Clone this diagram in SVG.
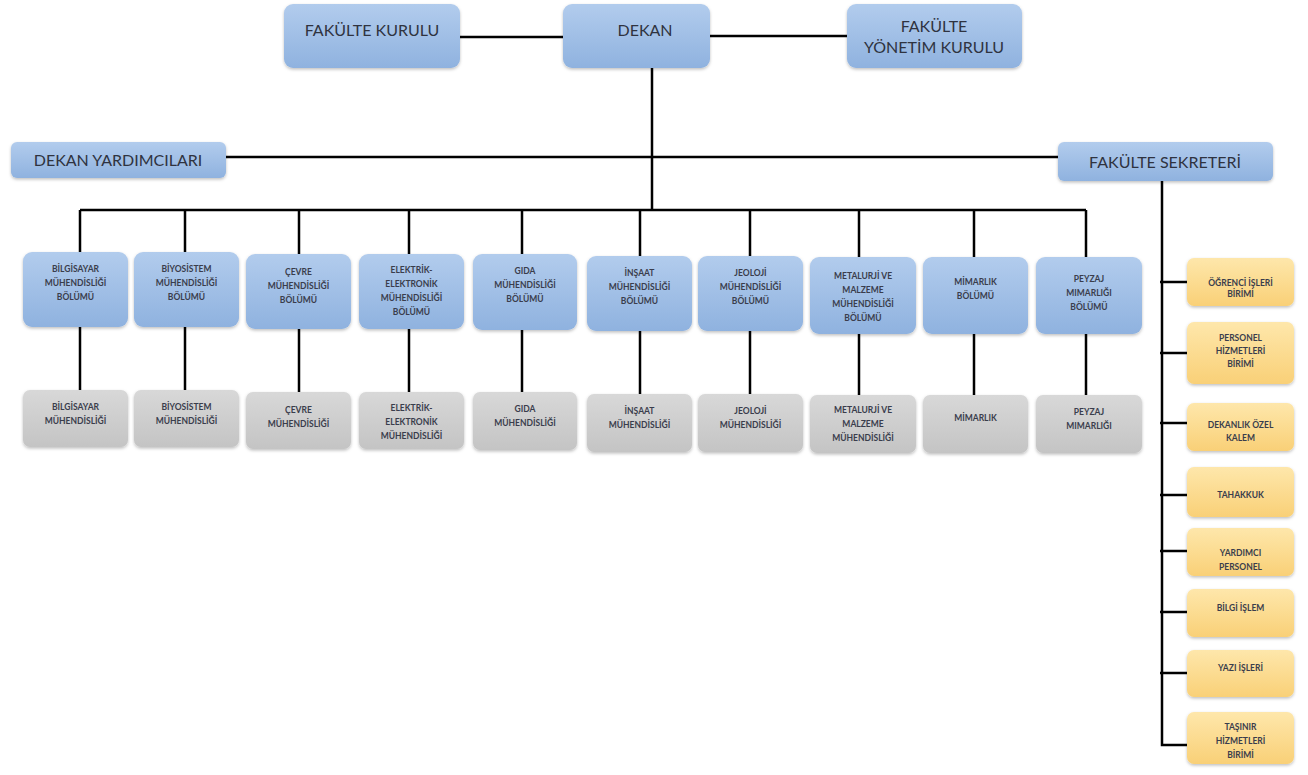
<svg xmlns="http://www.w3.org/2000/svg" width="1308" height="775" viewBox="0 0 1308 775">
<defs>
<linearGradient id="gb" x1="0" y1="0" x2="0" y2="1"><stop offset="0" stop-color="#b2cced"/><stop offset="1" stop-color="#8fb2df"/></linearGradient>
<linearGradient id="gg" x1="0" y1="0" x2="0" y2="1"><stop offset="0" stop-color="#d8d8d8"/><stop offset="1" stop-color="#c4c4c4"/></linearGradient>
<linearGradient id="go" x1="0" y1="0" x2="0" y2="1"><stop offset="0" stop-color="#fee7ab"/><stop offset="1" stop-color="#f9d077"/></linearGradient>
<filter id="sh" x="-10%" y="-10%" width="130%" height="140%"><feDropShadow dx="0" dy="1.5" stdDeviation="1.5" flood-color="#000" flood-opacity="0.25"/></filter>
<style>
.b{fill:url(#gb);filter:url(#sh)}
.g{fill:url(#gg);filter:url(#sh)}
.o{fill:url(#go);filter:url(#sh)}
.t{font-family:Lato,"Liberation Sans",sans-serif;font-size:16px;fill:#2f3340;text-anchor:middle}
.s{font-family:Lato,"Liberation Sans",sans-serif;font-size:8.5px;font-weight:bold;fill:#3a3d4c;text-anchor:middle}
.c{stroke:#000;stroke-width:2.5;fill:none}
</style>
</defs>
<g id="connectors" class="c">
<path d="M460 37H563M710 36H847M652 68V210M226 157H1058M80 210H1086"/>
<path d="M80 210V252M185 210V252M299 210V254M409 210V254M522 210V254M640 210V256M750 210V256M859 210V257M974 210V257M1086 210V257"/>
<path d="M80 327V390M185 327V390M299 329V392M409 329V392M522 330V392M640 331V394M750 331V394M859 334V395M974 334V395M1086 334V395"/>
<path d="M1162 181V745H1187M1160 282H1187M1160 353H1187M1160 423H1187M1160 495H1187M1160 551H1187M1160 612H1187M1160 673H1187"/>
</g>
<g id="fakulte-kurulu"><rect class="b" x="284" y="4" width="176" height="64" rx="9"/><text class="t" x="372" y="36">FAKÜLTE KURULU</text></g>
<g id="dekan"><rect class="b" x="563" y="4" width="147" height="64" rx="9"/><text class="t" x="645" y="36">DEKAN</text></g>
<g id="fakulte-yonetim-kurulu"><rect class="b" x="847" y="4" width="175" height="64" rx="9"/><text class="t" x="934" y="32">FAKÜLTE</text><text class="t" x="934" y="53">YÖNETİM KURULU</text></g>
<g id="dekan-yardimcilari"><rect class="b" x="11" y="142" width="215" height="36" rx="6"/><text class="t" x="118" y="166">DEKAN YARDIMCILARI</text></g>
<g id="fakulte-sekreteri"><rect class="b" x="1058" y="142" width="215" height="39" rx="6"/><text class="t" x="1165" y="168">FAKÜLTE SEKRETERİ</text></g>

<g id="bolum-bilgisayar"><rect class="b" x="23" y="252" width="105" height="75" rx="9"/><text class="s" x="75.5" y="272">BİLGİSAYAR</text><text class="s" x="75.5" y="286">MÜHENDİSLİĞİ</text><text class="s" x="75.5" y="300">BÖLÜMÜ</text></g>
<g id="bolum-biyosistem"><rect class="b" x="134" y="252" width="105" height="75" rx="9"/><text class="s" x="186.5" y="272">BİYOSİSTEM</text><text class="s" x="186.5" y="286">MÜHENDİSLİĞİ</text><text class="s" x="186.5" y="300">BÖLÜMÜ</text></g>
<g id="bolum-cevre"><rect class="b" x="246" y="254" width="105" height="75" rx="9"/><text class="s" x="298.5" y="275">ÇEVRE</text><text class="s" x="298.5" y="289">MÜHENDİSLİĞİ</text><text class="s" x="298.5" y="303">BÖLÜMÜ</text></g>
<g id="bolum-elektrik"><rect class="b" x="359" y="254" width="105" height="75" rx="9"/><text class="s" x="411.5" y="273">ELEKTRİK-</text><text class="s" x="411.5" y="287">ELEKTRONİK</text><text class="s" x="411.5" y="301">MÜHENDİSLİĞİ</text><text class="s" x="411.5" y="315">BÖLÜMÜ</text></g>
<g id="bolum-gida"><rect class="b" x="473" y="254" width="104" height="76" rx="9"/><text class="s" x="525" y="274">GIDA</text><text class="s" x="525" y="288">MÜHENDİSLİĞİ</text><text class="s" x="525" y="302">BÖLÜMÜ</text></g>
<g id="bolum-insaat"><rect class="b" x="587" y="256" width="105" height="75" rx="9"/><text class="s" x="639.5" y="276">İNŞAAT</text><text class="s" x="639.5" y="290">MÜHENDİSLİĞİ</text><text class="s" x="639.5" y="304">BÖLÜMÜ</text></g>
<g id="bolum-jeoloji"><rect class="b" x="698" y="256" width="105" height="75" rx="9"/><text class="s" x="750.5" y="276">JEOLOJİ</text><text class="s" x="750.5" y="290">MÜHENDİSLİĞİ</text><text class="s" x="750.5" y="304">BÖLÜMÜ</text></g>
<g id="bolum-metaluri"><rect class="b" x="810" y="257" width="106" height="77" rx="9"/><text class="s" x="863" y="279">METALURJİ VE</text><text class="s" x="863" y="293">MALZEME</text><text class="s" x="863" y="307">MÜHENDİSLİĞİ</text><text class="s" x="863" y="321">BÖLÜMÜ</text></g>
<g id="bolum-mimarlik"><rect class="b" x="923" y="257" width="105" height="77" rx="9"/><text class="s" x="975.5" y="285">MİMARLIK</text><text class="s" x="975.5" y="299">BÖLÜMÜ</text></g>
<g id="bolum-peyzaj"><rect class="b" x="1036" y="257" width="106" height="77" rx="9"/><text class="s" x="1089" y="282">PEYZAJ</text><text class="s" x="1089" y="296">MIMARLIĞI</text><text class="s" x="1089" y="310">BÖLÜMÜ</text></g>

<g id="prog-bilgisayar"><rect class="g" x="23" y="390" width="105" height="57" rx="7"/><text class="s" x="75.5" y="410">BİLGİSAYAR</text><text class="s" x="75.5" y="424">MÜHENDİSLİĞİ</text></g>
<g id="prog-biyosistem"><rect class="g" x="134" y="390" width="105" height="57" rx="7"/><text class="s" x="186.5" y="410">BİYOSİSTEM</text><text class="s" x="186.5" y="424">MÜHENDİSLİĞİ</text></g>
<g id="prog-cevre"><rect class="g" x="246" y="392" width="105" height="57" rx="7"/><text class="s" x="298.5" y="413">ÇEVRE</text><text class="s" x="298.5" y="427">MÜHENDİSLİĞİ</text></g>
<g id="prog-elektrik"><rect class="g" x="359" y="392" width="105" height="57" rx="7"/><text class="s" x="411.5" y="411">ELEKTRİK-</text><text class="s" x="411.5" y="425">ELEKTRONİK</text><text class="s" x="411.5" y="439">MÜHENDİSLİĞİ</text></g>
<g id="prog-gida"><rect class="g" x="473" y="392" width="104" height="58" rx="7"/><text class="s" x="525" y="412">GIDA</text><text class="s" x="525" y="426">MÜHENDİSLİĞİ</text></g>
<g id="prog-insaat"><rect class="g" x="587" y="394" width="105" height="58" rx="7"/><text class="s" x="639.5" y="414">İNŞAAT</text><text class="s" x="639.5" y="428">MÜHENDİSLİĞİ</text></g>
<g id="prog-jeoloji"><rect class="g" x="698" y="394" width="105" height="58" rx="7"/><text class="s" x="750.5" y="414">JEOLOJİ</text><text class="s" x="750.5" y="428">MÜHENDİSLİĞİ</text></g>
<g id="prog-metaluri"><rect class="g" x="810" y="395" width="106" height="58" rx="7"/><text class="s" x="863" y="413">METALURJİ VE</text><text class="s" x="863" y="427">MALZEME</text><text class="s" x="863" y="441">MÜHENDİSLİĞİ</text></g>
<g id="prog-mimarlik"><rect class="g" x="923" y="395" width="105" height="58" rx="7"/><text class="s" x="975.5" y="421">MİMARLIK</text></g>
<g id="prog-peyzaj"><rect class="g" x="1036" y="395" width="106" height="58" rx="7"/><text class="s" x="1089" y="415">PEYZAJ</text><text class="s" x="1089" y="429">MIMARLIĞI</text></g>

<g id="ogrenci-isleri"><rect class="o" x="1187" y="258" width="107" height="48" rx="7"/><text class="s" x="1240.5" y="286">ÖĞRENCİ İŞLERİ</text><text class="s" x="1240.5" y="297">BİRİMİ</text></g>
<g id="personel-hizmetleri"><rect class="o" x="1187" y="322" width="107" height="62" rx="7"/><text class="s" x="1240.5" y="341">PERSONEL</text><text class="s" x="1240.5" y="354">HİZMETLERİ</text><text class="s" x="1240.5" y="367">BİRİMİ</text></g>
<g id="dekanlik-ozel-kalem"><rect class="o" x="1187" y="403" width="107" height="48" rx="7"/><text class="s" x="1240.5" y="428">DEKANLIK ÖZEL</text><text class="s" x="1240.5" y="441">KALEM</text></g>
<g id="tahakkuk"><rect class="o" x="1187" y="467" width="107" height="50" rx="7"/><text class="s" x="1240.5" y="498">TAHAKKUK</text></g>
<g id="yardimci-personel"><rect class="o" x="1187" y="528" width="107" height="48" rx="7"/><text class="s" x="1240.5" y="556">YARDIMCI</text><text class="s" x="1240.5" y="570">PERSONEL</text></g>
<g id="bilgi-islem"><rect class="o" x="1187" y="589" width="107" height="48" rx="7"/><text class="s" x="1240.5" y="611">BİLGİ İŞLEM</text></g>
<g id="yazi-isleri"><rect class="o" x="1187" y="650" width="107" height="47" rx="7"/><text class="s" x="1240.5" y="671">YAZI İŞLERİ</text></g>
<g id="tasinir-hizmetleri"><rect class="o" x="1187" y="712" width="107" height="52" rx="7"/><text class="s" x="1240.5" y="730">TAŞINIR</text><text class="s" x="1240.5" y="744">HİZMETLERİ</text><text class="s" x="1240.5" y="758">BİRİMİ</text></g>
</svg>
